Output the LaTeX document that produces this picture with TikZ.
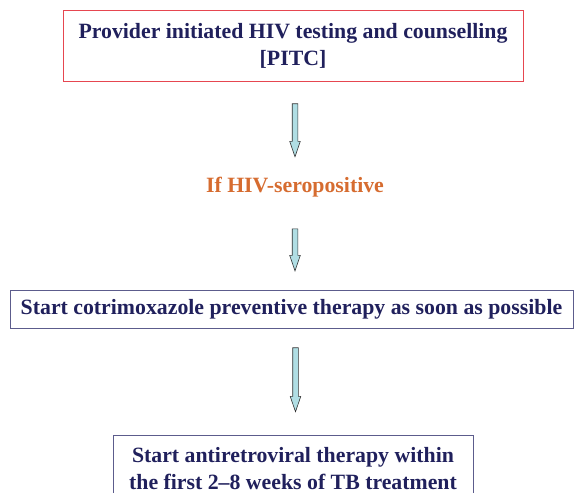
\documentclass[tikz,border=0pt]{standalone}
\usepackage{fontspec}
\setmainfont{Liberation Serif}
\usetikzlibrary{positioning,shapes.arrows}

\definecolor{navytext}{RGB}{32,32,92}
\definecolor{pitcred}{RGB}{230,70,80}
\definecolor{boxblue}{RGB}{92,92,140}
\definecolor{hivorange}{RGB}{214,108,48}
\definecolor{arrowfill}{RGB}{176,222,228}

\tikzset{
  stepbox/.style={draw=boxblue, line width=0.9pt, text=navytext,
    font=\bfseries\fontsize{21.8}{27}\selectfont, align=center, inner sep=0pt},
  downarrow/.style={single arrow, draw=black!80, fill=arrowfill, line width=0.6pt,
    shape border rotate=270, minimum width=10pt, single arrow head extend=2.5pt,
    single arrow tip angle=38, inner sep=2.5pt}
}

\begin{document}
\begin{tikzpicture}[x=1pt,y=-1pt]
\useasboundingbox (0,0) rectangle (574,493);

\node[stepbox, draw=pitcred, minimum width=460pt, minimum height=71pt] (pitc) at (293,45.5)
  {Provider initiated HIV testing and counselling\\{[PITC]}};
\node[text=hivorange, font=\bfseries\fontsize{21.8}{27}\selectfont] (ifpos) at (295,187) {If HIV-seropositive};
\node[stepbox, minimum width=563pt, minimum height=38pt] (cotri) at (291.5,309)
  {Start cotrimoxazole preventive therapy as soon as possible};
\node[stepbox, minimum width=360pt, minimum height=66pt, anchor=north] (art) at (293,435)
  {Start antiretroviral therapy within\\the first 2--8 weeks of TB treatment};

% arrows between the steps
\node[downarrow, minimum height=53pt, below=22pt of pitc.south, xshift=2pt] (a1) {};
\node[downarrow, minimum height=42pt, below=28pt of ifpos.south, xshift=0pt] (a2) {};
\node[downarrow, minimum height=64pt, below=19pt of cotri.south, xshift=4pt] (a3) {};
\end{tikzpicture}
\end{document}
